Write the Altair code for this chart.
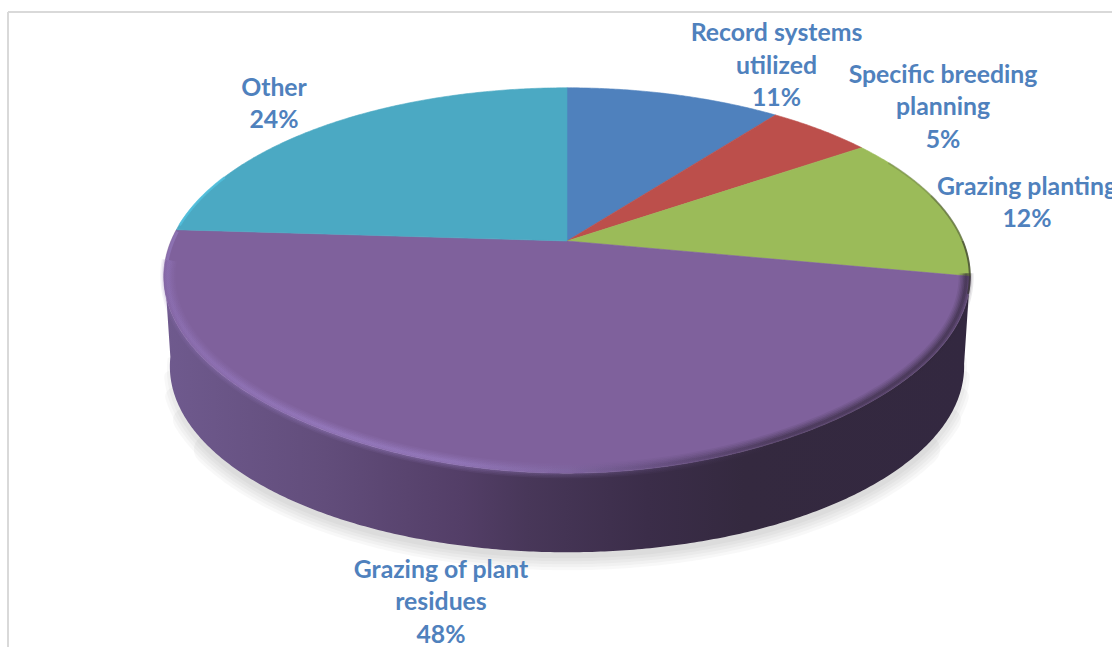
import math
import altair as alt
import pandas as pd

W, H = 1112, 647

# Survey shares, clockwise from twelve o'clock
categories = ["Record systems\nutilized", "Specific breeding\nplanning", "Grazing planting",
              "Grazing of plant\nresidues", "Other"]
shares = [11, 5, 12, 48, 24]
slice_colors = ["#4f81bd", "#bc4f4b", "#9bbb59", "#7f619c", "#4ba9c3"]

# Label anchors: centre x and first baseline y
label_x = [776.5, 943, 1027, 441, 274]
label_y = [41, 82.5, 194.5, 577.5, 95.5]

# Perspective of the tilted disc
CX, CY = 567, 241
RX, RY, K = 396, 182, 0.188
DEPTH = 90.5
FLOOR_SCALE = 0.985
FRONT_BULGE = 8


def rim(theta, scale=1.0, drop=0.0, bulge=FRONT_BULGE):
    d = theta % 360
    # the back right quadrant reads slightly rotated towards twelve o'clock
    turned = d - 2.4 * math.sin(math.radians(2 * d)) if d < 90 else d
    t = math.radians(turned)
    c = math.cos(t)
    w = 1 + K * c
    front = max(0.0, -c) ** 6
    return (CX + scale * RX * math.sin(t) / w,
            CY + drop - scale * RY * c / w + scale * bulge * front)


def arc(a, b, scale=1.0, drop=0.0, bulge=FRONT_BULGE):
    n = max(2, int(abs(b - a)) * 2)
    return [rim(a + (b - a) * i / n, scale, drop, bulge) for i in range(n + 1)]


def frame(points):
    return pd.DataFrame({"px": [p[0] for p in points], "py": [p[1] for p in points],
                         "seq": range(len(points))})


X = alt.X("px:Q", scale=alt.Scale(domain=[0, W], nice=False, zero=False), axis=None)
Y = alt.Y("py:Q", scale=alt.Scale(domain=[H, 0], nice=False, zero=False), axis=None)
ORDER = alt.Order("seq:Q")


def shape(points, **mark):
    return alt.Chart(frame(points)).mark_line(**mark).encode(x=X, y=Y, order=ORDER)


def gradient(stops):
    return alt.LinearGradient(
        gradient="linear", x1=0, x2=1, y1=0, y2=0,
        stops=[alt.GradientStop(offset=o, color=c) for o, c in stops],
    )


layers = []

# Picture frame along the top and left
layers.append(alt.Chart(pd.DataFrame({"a": [0]})).mark_rule(color="#d9d9d9", strokeWidth=2).encode(
    x=alt.value(8), x2=alt.value(W), y=alt.value(12)))
layers.append(alt.Chart(pd.DataFrame({"a": [0]})).mark_rule(color="#d9d9d9", strokeWidth=2).encode(
    x=alt.value(8), y=alt.value(12), y2=alt.value(H)))

# Soft ground shadow under the disc, tapering towards the sides
for width, a, b in ((30, 125, 235), (24, 116, 244), (18, 109, 251), (12, 103, 257), (6, 98, 262)):
    layers.append(shape(arc(a, b, FLOOR_SCALE, DEPTH + 3, 0), stroke="#000000", strokeWidth=width,
                        opacity=0.028, strokeCap="round"))

# Side wall of the disc
wall = arc(100, 262) + arc(262, 100, FLOOR_SCALE, DEPTH, 0)
layers.append(shape(wall, stroke=None, fill=gradient([
    (0.0, "#6f5a8e"), (0.2, "#624d7b"), (0.37, "#533e67"), (0.45, "#483759"),
    (0.6, "#3b2d49"), (0.72, "#34293f"), (1.0, "#332840"),
])))

# Top face, one wedge per category
start = 0.0
for share, color in zip(shares, slice_colors):
    end = start + share * 3.6
    layers.append(shape([(CX, CY)] + arc(start, end) + [(CX, CY)],
                        fill=color, stroke=color, strokeWidth=0.6))
    start = end

# Bevel along the front rim: light on the left, falling into shadow on the right
bevel = gradient([
    (0.0, "#8f72b6"), (0.2, "#9c81c8"), (0.36, "#997fc4"), (0.5, "#8068a2"),
    (0.63, "#57446e"), (0.76, "#35293f"), (1.0, "#2f2538"),
])
for width, opacity in ((15, 0.1), (12, 0.13), (9, 0.17), (6, 0.22), (3, 0.3)):
    layers.append(shape(arc(100, 264, 0.99), stroke=bevel, strokeWidth=width, opacity=opacity))

# Thin dark edge creeping up the right of the rim
for a, b, opacity in ((64, 76, 0.2), (76, 90, 0.4), (90, 106, 0.65)):
    layers.append(shape(arc(a, b, 0.999), stroke="#2f2f28", strokeWidth=2, opacity=opacity))

# Faint light edge on the left of the rim
layers.append(shape(arc(264, 273, 0.995), stroke="#957bbf", strokeWidth=3, opacity=0.6))
layers.append(shape(arc(275, 292, 0.998), stroke="#52c4e2", strokeWidth=2.5, opacity=0.7))

# Category labels with their share
labels = pd.DataFrame({
    "text": [f"{c}\n{s}%" for c, s in zip(categories, shares)],
    "px": label_x, "py": label_y,
})
layers.append(alt.Chart(labels).mark_text(
    font="Lato", fontWeight="bold", fontSize=24.8, color="#4f81bd",
    align="center", baseline="alphabetic", lineBreak="\n", lineHeight=32.5,
).encode(x=X, y=Y, text="text:N"))

chart = alt.layer(*layers).properties(
    width=W, height=H, padding=0, autosize=alt.AutoSizeParams(type="none"), background="#ffffff",
).configure_view(stroke=None)

chart.save("out.html", embed_options={"renderer": "svg", "actions": False})
